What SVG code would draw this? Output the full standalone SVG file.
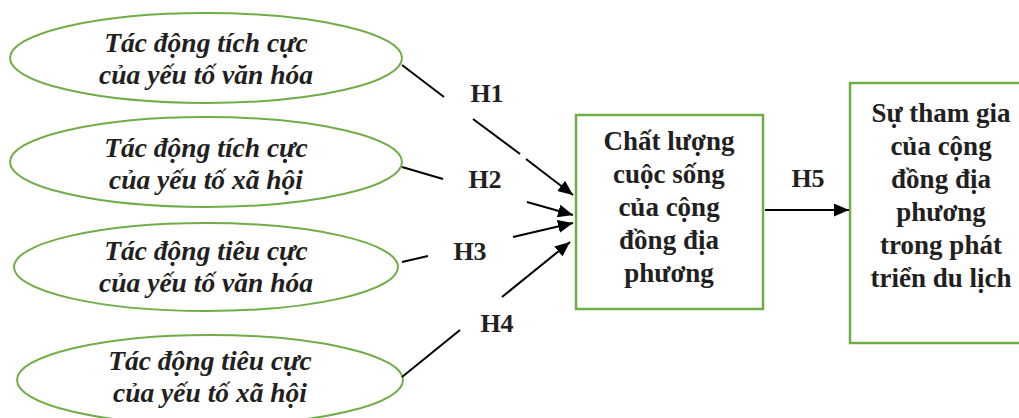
<svg xmlns="http://www.w3.org/2000/svg" width="1019" height="418" viewBox="0 0 1019 418">
<defs>
<style>
.ell{fill:#fff;stroke:#70AD47;stroke-width:2}
.box{fill:#fff;stroke:#70AD47;stroke-width:2.5}
.it{font-family:"Liberation Serif","Times New Roman",serif;font-style:italic;font-weight:bold;font-size:27.5px;fill:#231f20;text-anchor:middle}
.bd{font-family:"Liberation Serif","Times New Roman",serif;font-weight:bold;font-size:27px;fill:#231f20;text-anchor:middle}
.lb{font-family:"Liberation Serif","Times New Roman",serif;font-weight:bold;font-size:26px;fill:#231f20;text-anchor:middle}
.ln{stroke:#000;stroke-width:2;fill:none}
</style>
<marker id="ah" markerUnits="userSpaceOnUse" markerWidth="15" markerHeight="13" refX="15" refY="6.5" orient="auto">
<path d="M0,0 L15,6.5 L0,13 z" fill="#000"/>
</marker>
</defs>
<rect width="1019" height="418" fill="#fff"/>
<g id="n1"><ellipse class="ell" cx="206" cy="58" rx="196" ry="45"/>
<text class="it" x="206" y="52">Tác động tích cực</text><text class="it" x="206" y="84">của yếu tố văn hóa</text></g>
<g id="n2"><ellipse class="ell" cx="206" cy="162" rx="196" ry="45"/>
<text class="it" x="206" y="157">Tác động tích cực</text><text class="it" x="206" y="189">của yếu tố xã hội</text></g>
<g id="n3"><ellipse class="ell" cx="206" cy="267" rx="192" ry="44"/>
<text class="it" x="206" y="260">Tác động tiêu cực</text><text class="it" x="206" y="292">của yếu tố văn hóa</text></g>
<g id="n4"><ellipse class="ell" cx="210" cy="380" rx="193" ry="45"/>
<text class="it" x="210" y="370">Tác động tiêu cực</text><text class="it" x="210" y="402">của yếu tố xã hội</text></g>
<g id="n5"><rect class="box" x="576" y="115" width="187" height="194"/>
<text class="bd" x="669" y="150">Chất lượng</text><text class="bd" x="669" y="183">cuộc sống</text><text class="bd" x="669" y="216">của cộng</text><text class="bd" x="669" y="249">đồng địa</text><text class="bd" x="669" y="282">phương</text></g>
<g id="n6"><rect class="box" x="850" y="83" width="182" height="260"/>
<text class="bd" x="941" y="122">Sự tham gia</text><text class="bd" x="941" y="155">của cộng</text><text class="bd" x="941" y="188">đồng địa</text><text class="bd" x="941" y="221">phương</text><text class="bd" x="941" y="254">trong phát</text><text class="bd" x="941" y="287">triển du lịch</text></g>
<g id="connectors">
<line class="ln" x1="402" y1="65" x2="444" y2="97"/>
<line class="ln" x1="473" y1="119" x2="520" y2="154"/>
<line class="ln" x1="526" y1="159" x2="573" y2="195" marker-end="url(#ah)"/>
<line class="ln" x1="402" y1="167" x2="443" y2="179"/>
<line class="ln" x1="527" y1="202" x2="573" y2="215" marker-end="url(#ah)"/>
<line class="ln" x1="402" y1="262" x2="428" y2="256"/>
<line class="ln" x1="513" y1="237" x2="573" y2="223" marker-end="url(#ah)"/>
<line class="ln" x1="402" y1="377" x2="460" y2="330"/>
<line class="ln" x1="502" y1="297" x2="570" y2="242" marker-end="url(#ah)"/>
<line class="ln" x1="765" y1="210" x2="849" y2="210" marker-end="url(#ah)"/>
<text class="lb" x="487" y="102">H1</text>
<text class="lb" x="485" y="188">H2</text>
<text class="lb" x="470" y="260">H3</text>
<text class="lb" x="497" y="332">H4</text>
<text class="lb" x="808" y="187">H5</text>
</g>
</svg>
